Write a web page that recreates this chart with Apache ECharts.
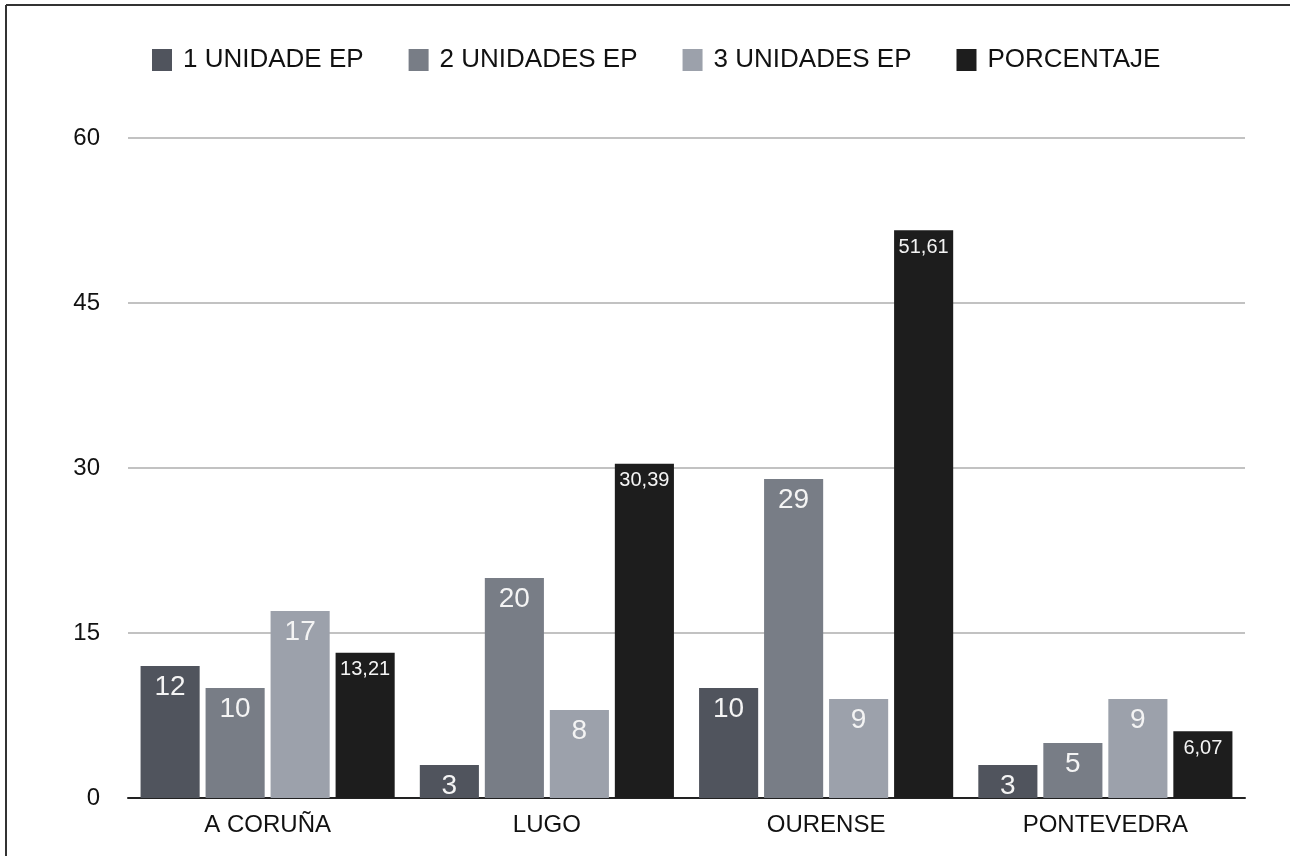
<!DOCTYPE html>
<html>
<head>
<meta charset="utf-8">
<script src="https://cdn.jsdelivr.net/npm/echarts@6/dist/echarts.min.js"></script>
<style>
  html, body { margin: 0; padding: 0; background: #fff; }
  #chart { width: 1290px; height: 856px; }
</style>
</head>
<body>
<div id="chart"></div>
<script>
const provincias = ['A CORUÑA', 'LUGO', 'OURENSE', 'PONTEVEDRA'];
const unaUnidade = [12, 3, 10, 3];
const dosUnidades = [10, 20, 29, 5];
const tresUnidades = [17, 8, 9, 9];
const porcentaje = [13.21, 30.39, 51.61, 6.07];
const yTicks = [0, 15, 30, 45, 60];

const fuente = "'Liberation Sans', Arial, sans-serif";

// etiqueta blanca dentro da barra
function etiqueta(size, decimal) {
    return {
        show: true,
        position: 'insideTop',
        distance: 7,
        color: '#f4f4f4',
        fontFamily: fuente,
        fontSize: size,
        formatter: function(p) {
            return decimal ? p.value.toFixed(2).replace('.', ',') : String(p.value);
        }
    };
}

function serie(name, data, color, size, decimal) {
    return {
        name: name,
        type: 'bar',
        data: data,
        barGap: '10%',
        barCategoryGap: '9%',
        itemStyle: { color: color },
        label: etiqueta(size, decimal)
    };
}

const chart = echarts.init(document.getElementById('chart'));
chart.setOption({
    backgroundColor: '#fff',
    animation: false,
    legend: {
        top: 42,
        left: 147,
        itemWidth: 20,
        itemHeight: 22,
        itemGap: 45,
        icon: 'rect',
        textStyle: {
            fontFamily: fuente,
            fontSize: 26,
            color: '#111',
            padding: [0, 0, 0, 6]
        }
    },
    grid: { left: 128, right: 45, top: 138, bottom: 58 },
    xAxis: {
        type: 'category',
        data: provincias,
        axisLine: { lineStyle: { color: '#222', width: 2 } },
        axisTick: { show: false },
        axisLabel: { fontFamily: fuente, fontSize: 24, color: '#111', margin: 15 }
    },
    yAxis: {
        type: 'value',
        min: yTicks[0],
        max: yTicks[yTicks.length - 1],
        interval: yTicks[1] - yTicks[0],
        axisLine: { show: false },
        axisTick: { show: false },
        splitLine: { lineStyle: { color: '#c2c2c2', width: 2 } },
        axisLabel: { fontFamily: fuente, fontSize: 24, color: '#111', margin: 28 }
    },
    series: [
        serie('1 UNIDADE EP', unaUnidade, '#50545d', 28, false),
        serie('2 UNIDADES EP', dosUnidades, '#787d86', 28, false),
        serie('3 UNIDADES EP', tresUnidades, '#9ca1ab', 28, false),
        serie('PORCENTAJE', porcentaje, '#1d1d1d', 20, true)
    ],
    graphic: [
        { type: 'line', shape: { x1: 6, y1: 5, x2: 1290, y2: 5 }, style: { stroke: '#333', lineWidth: 2 } },
        { type: 'line', shape: { x1: 6, y1: 5, x2: 6, y2: 856 }, style: { stroke: '#333', lineWidth: 2 } }
    ]
});
</script>
</body>
</html>
